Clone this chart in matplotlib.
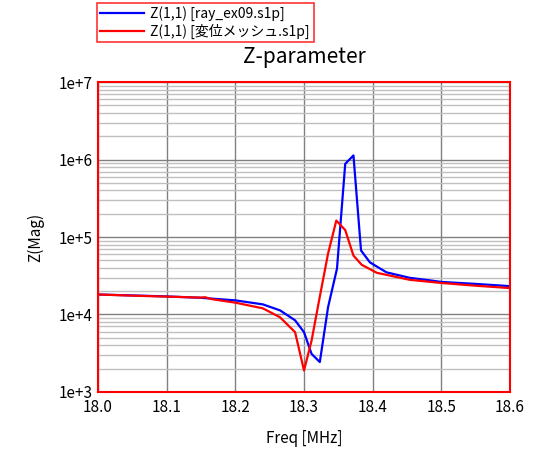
import numpy as np
import matplotlib
matplotlib.use('Agg')
import matplotlib.pyplot as plt
from matplotlib.ticker import LogLocator, FuncFormatter, MultipleLocator, NullFormatter

plt.rcParams['font.family'] = ['Noto Sans CJK JP', 'DejaVu Sans']

# Z(1,1) [ray_ex09.s1p]
freq_a = [18.00, 18.05, 18.10, 18.15, 18.20, 18.24, 18.265, 18.287, 18.30,
          18.311, 18.323, 18.335, 18.348, 18.360, 18.372, 18.383, 18.396,
          18.42, 18.454, 18.48, 18.50, 18.55, 18.60]
z_a = [18100, 17600, 17100, 16400, 15200, 13500, 11300, 8400, 5900,
       3100, 2430, 12400, 39000, 880000, 1130000, 67000, 47000,
       35000, 29700, 27800, 26300, 24800, 23200]

# Z(1,1) [変位メッシュ.s1p]
freq_b = [18.00, 18.05, 18.10, 18.15, 18.156, 18.165, 18.20, 18.24, 18.265,
          18.287, 18.30, 18.311, 18.323, 18.335, 18.347, 18.360, 18.372,
          18.384, 18.406, 18.454, 18.50, 18.55, 18.60]
z_b = [18100, 17500, 17000, 16500, 16700, 15800, 14200, 12000, 9200,
       5900, 1890, 4600, 17000, 61000, 163000, 123000, 57500,
       43800, 34500, 28000, 25500, 23500, 21900]

labels = ['Z(1,1) [ray_ex09.s1p]', 'Z(1,1) [変位メッシュ.s1p]']

fig = plt.figure(figsize=(5.4, 4.51), dpi=100)
ax = fig.add_axes([0.1815, 0.131, 0.763, 0.687])

l1, = ax.plot(freq_a, z_a, color='#0000ff', lw=1.6, label=labels[0])
l2, = ax.plot(freq_b, z_b, color='#ff0000', lw=1.6, label=labels[1])

ax.set_yscale('log')
ax.set_xlim(18.0, 18.6)
ax.set_ylim(1e3, 1e7)
ax.xaxis.set_major_locator(MultipleLocator(0.1))
ax.xaxis.set_major_formatter(FuncFormatter(lambda v, p: f'{v:.1f}'))
ax.yaxis.set_major_locator(LogLocator(base=10, numticks=10))
ax.yaxis.set_minor_locator(LogLocator(base=10, subs=np.arange(2, 10), numticks=20))
ax.yaxis.set_minor_formatter(NullFormatter())
ax.yaxis.set_major_formatter(FuncFormatter(lambda v, p: f'1e+{int(round(np.log10(v)))}'))

ax.grid(True, which='major', color='#808080', lw=1)
ax.grid(True, which='minor', axis='y', color='#c0c0c0', lw=1)
ax.set_axisbelow(True)
ax.tick_params(which='both', length=0, labelsize=11)
ax.tick_params(axis='x', pad=5)
ax.tick_params(axis='y', pad=4)
for s in ax.spines.values():
    s.set_color('#ff0000')
    s.set_linewidth(1.5)

ax.set_title('Z-parameter', fontsize=15, pad=14)
ax.set_xlabel('Freq [MHz]', fontsize=11, labelpad=10)
ax.set_ylabel('Z(Mag)', fontsize=11, labelpad=10)

leg = fig.legend(handles=[l1, l2], loc='upper left',
                 bbox_to_anchor=(97 / 540, 1 - 3 / 451), fontsize=10,
                 frameon=True, fancybox=False, borderpad=0.25,
                 handlelength=3.1, labelspacing=0.15, handletextpad=0.5,
                 borderaxespad=0)
leg.get_frame().set_edgecolor('#ff0000')
leg.get_frame().set_linewidth(1.2)

plt.savefig('out.png', dpi=100)
